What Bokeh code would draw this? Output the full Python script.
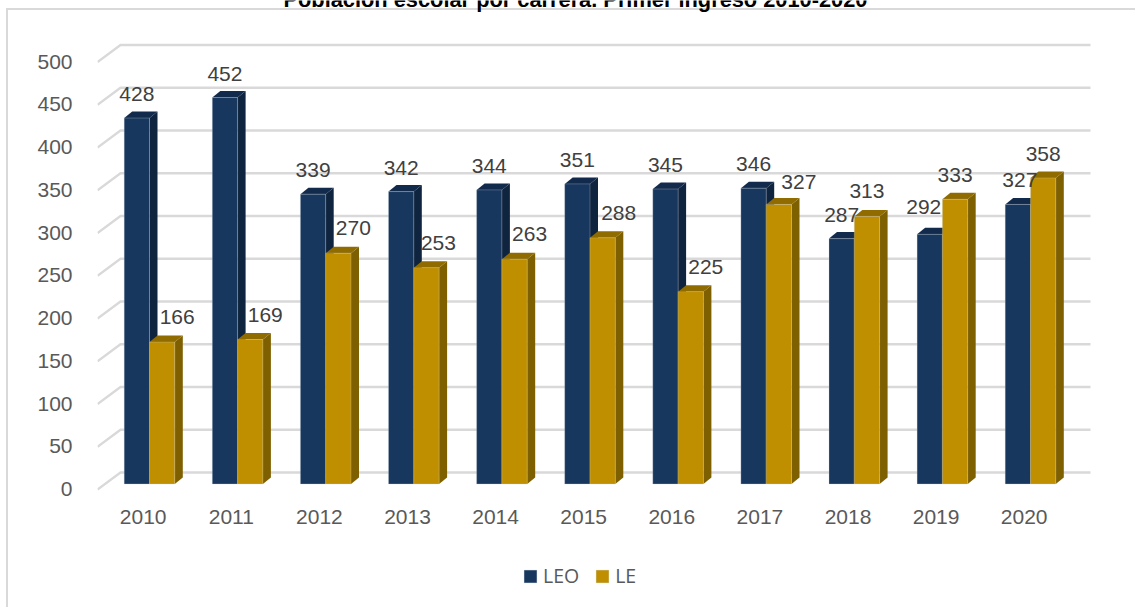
from bokeh.plotting import figure
from bokeh.models import (Range1d, LinearAxis, ColumnDataSource, Legend, LegendItem, Label,
                          FixedTicker)
from bokeh.core.properties import value
from bokeh.embed import file_html
from bokeh.resources import INLINE

# ---- data ----
years = ["2010", "2011", "2012", "2013", "2014", "2015", "2016", "2017", "2018", "2019", "2020"]
leo = [428, 452, 339, 342, 344, 351, 345, 346, 287, 292, 327]
le = [166, 169, 270, 253, 263, 288, 225, 327, 313, 333, 358]
y_ticks = [0, 50, 100, 150, 200, 250, 300, 350, 400, 450, 500]
title_text = "Población escolar por carrera. Primer ingreso 2010-2020"

# ---- label nudges (px), styles ----
leo_dx = [0, 0, 0, 0, 0, 0, 0, 0, 0, -6, 2]
leo_dy = [24, 24, 24, 24, 24, 24, 24, 24, 24, 27, 24]
le_dx = [15, 15, 15, 12, 15, 16, 15, 20, 0, 0, 0]
le_dy = [25, 25, 25, 25, 25, 25, 25, 22, 25, 24, 24]

NUM_FONT = "Liberation Sans"
NUM_SIZE = "21px"
W, H = 1135, 607
F_L, F_R, F_B = 97, 1095, 607      # frame in page pixels
STEP, CX0 = 88.1, 149.0            # px per category, px of first category centre
PXV, Y0 = 0.855, 483.5             # px per unit, px of value 0 on bar front
BW = 25.3 / STEP
DX, DY = 8.0 / STEP, 6.5 / PXV     # bar depth

x_range = Range1d((F_L - CX0) / STEP, (F_R - CX0) / STEP)
y_range = Range1d((Y0 - F_B) / PXV, Y0 / PXV)

p = figure(width=W, height=H, x_range=x_range, y_range=y_range, output_backend="svg",
           toolbar_location=None, min_border_left=F_L, min_border_right=W - F_R,
           min_border_top=0, min_border_bottom=0, outline_line_color=None,
           background_fill_color=None, border_fill_color=None)
# outer frame of the pasted chart: it runs past the right and bottom edges of the picture
p.styles = {"position": "absolute", "top": "0px", "left": "0px",
            "background": "linear-gradient(#d9d9d9,#d9d9d9) 6px 8px/2px 100% no-repeat,"
                          "linear-gradient(#d9d9d9,#d9d9d9) 6px 8px/100% 2px no-repeat,#ffffff"}
p.xaxis.visible = False
p.yaxis.visible = False
p.grid.visible = False

# axes on the "front plane" of the 3-D box
p.extra_y_ranges["front"] = Range1d((488.5 - F_B) / PXV, 488.5 / PXV)
p.extra_x_ranges["front"] = Range1d((F_L - 142.7) / STEP, (F_R - 142.7) / STEP)
yax = LinearAxis(y_range_name="front", ticker=FixedTicker(ticks=y_ticks), axis_line_color=None,
                 major_tick_line_color=None, minor_tick_line_color=None,
                 major_label_text_font=NUM_FONT, major_label_text_font_size=NUM_SIZE,
                 major_label_text_color="#595959", major_label_standoff=19)
p.add_layout(yax, "left")
xax = LinearAxis(x_range_name="front", ticker=FixedTicker(ticks=list(range(len(years)))),
                 major_label_overrides={i: y for i, y in enumerate(years)}, axis_line_color=None,
                 major_tick_line_color=None, minor_tick_line_color=None,
                 major_label_text_font=NUM_FONT, major_label_text_font_size=NUM_SIZE,
                 major_label_text_color="#595959", major_label_standoff=-104)
p.add_layout(xax, "below")

# gridlines: stub on the floor side, then along the back wall
back_x0 = (120 - CX0) / STEP
front_x0 = (97 - CX0) / STEP
right_x = (1090 - CX0) / STEP
back_dy = (Y0 - 472) / PXV
front_dy = (Y0 - 489) / PXV
p.multi_line([[front_x0, back_x0, right_x] for _ in y_ticks],
             [[v + front_dy, v + back_dy, v + back_dy] for v in y_ticks],
             line_color="#d9d9d9", line_width=2.4)

def bars(vals, off, front, side, top):
    n = range(len(vals))
    lefts = [i + off for i in n]
    rights = [i + off + BW for i in n]
    p.patches([[r, r + DX, r + DX, r] for r in rights],
              [[0, DY, v + DY, v] for v in vals], fill_color=side, line_color=None)
    p.patches([[l, l + DX, r + DX, r] for l, r in zip(lefts, rights)],
              [[v, v + DY, v + DY, v] for v in vals], fill_color=top, line_color=None)
    return p.quad(left=lefts, right=rights, bottom=0, top=vals, fill_color=front,
                  line_color="#c9cfd6", line_width=0.5, line_alpha=0.6)

r_leo = bars(leo, -BW, "#17375e", "#0f243e", "#122b4c")
r_le = bars(le, 0, "#bf8f00", "#7f6000", "#8f6b00")

def value_labels(vals, off, dxs, dys):
    src = ColumnDataSource(dict(x=[i + off + BW / 2 for i in range(len(vals))], y=vals,
                                t=[str(v) for v in vals], dx=dxs, dy=[-d for d in dys]))
    p.text(x="x", y="y", text="t", x_offset="dx", y_offset="dy", source=src,
           text_font=value(NUM_FONT), text_font_size=NUM_SIZE, text_color="#404040",
           text_align="center", text_baseline="middle")

value_labels(leo, -BW, leo_dx, leo_dy)
value_labels(le, 0, le_dx, le_dy)

legend = Legend(items=[LegendItem(label="LEO", renderers=[r_leo]), LegendItem(label="LE", renderers=[r_le])],
                orientation="horizontal", location=(522 - F_L, F_B - 589), border_line_color=None,
                background_fill_color=None, margin=0, padding=0, spacing=15, glyph_width=16, glyph_height=16,
                label_standoff=5, label_text_font="Open Sans", label_text_font_size="19.5px",
                label_text_color="#595959", label_height=16)
p.add_layout(legend, "center")

p.add_layout(Label(x=575, y=-1, x_units="canvas", y_units="canvas", text=title_text, text_align="center",
                   text_baseline="alphabetic", text_font="Liberation Sans", text_font_style="bold",
                   text_font_size="21.8px", text_color="#000000"))

open("out.html", "w").write(file_html(p, INLINE))
